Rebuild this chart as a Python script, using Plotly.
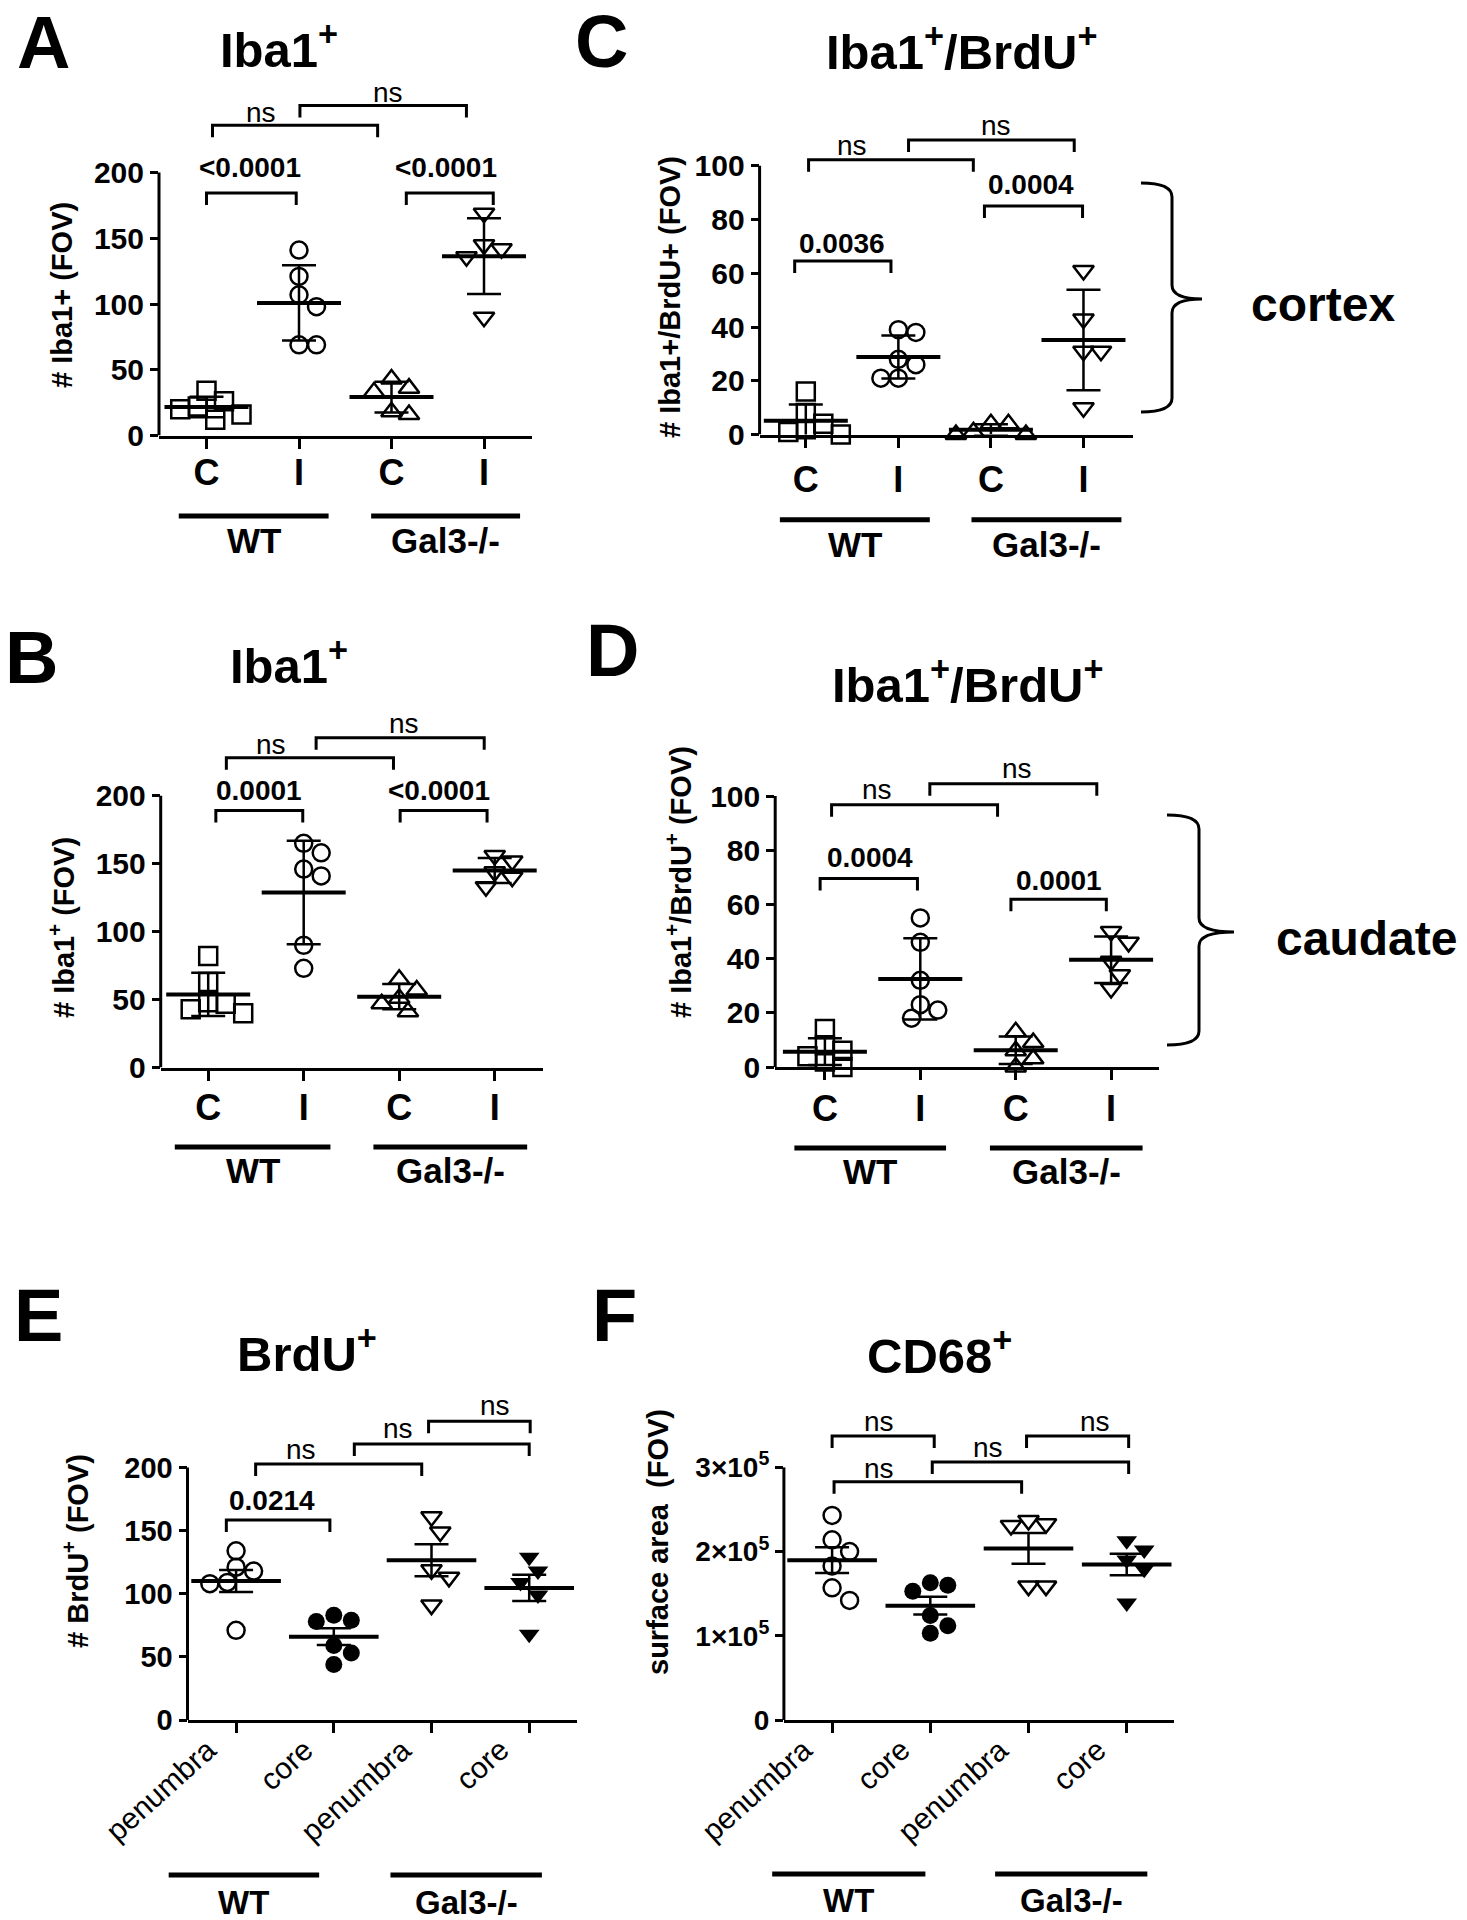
import numpy as np
import plotly.graph_objects as go

W, H = 1467, 1920
FONT = "Liberation Sans, Arial, Helvetica, sans-serif"

# ---------------- data ----------------
cat_ci = ["C", "I", "C", "I"]
cat_pc = ["penumbra", "core", "penumbra", "core"]
genotypes = ["WT", "Gal3-/-"]

a_wt_c = [34, 26, 22, 20, 16, 12]
a_wt_i = [141, 121, 107, 98, 69, 69]
a_ko_c = [43, 36, 33, 18, 16]
a_ko_i = [169, 145, 142, 136, 90]

b_wt_c = [82, 63, 48, 47, 43, 40]
b_wt_i = [165, 158, 146, 141, 90, 73]
b_ko_c = [65, 57, 51, 47, 41]
b_ko_i = [156, 152, 144, 140, 133]

c_wt_c = [16, 8, 4, 2, 1, 0]
c_wt_i = [39, 38, 28, 26, 21, 21]
c_ko_c = [4, 4, 1, 0, 0]
c_ko_i = [61, 43, 31, 31, 10]

d_wt_c = [14, 8, 6, 4, 2, 0]
d_wt_i = [55, 46, 32, 23, 21, 18]
d_ko_c = [13, 9, 6, 3, 0]
d_ko_i = [50, 46, 39, 34, 29]

e_wt_pen = [134, 121, 118, 109, 108, 71]
e_wt_core = [83, 79, 78, 59, 53, 44]
e_ko_pen = [161, 149, 119, 113, 91]
e_ko_core = [129, 118, 109, 99, 68]

f_wt_pen = [243000, 214000, 200000, 183000, 157000, 142000]
f_wt_core = [163000, 160000, 153000, 124000, 112000, 103000]
f_ko_pen = [237000, 233000, 231000, 159000, 159000]
f_ko_core = [213000, 202000, 190000, 179000, 139000]

# significance brackets: (from, to, height, label, label_x, label_y)
a_sig = [(0.0, 0.97, 184.5, "<0.0001", 0.47, 203.5),
         (2.16, 3.1, 184.5, "<0.0001", 2.59, 203.5),
         (0.065, 1.85, 236, "ns", 0.59, 245.6),
         (1.01, 2.81, 251, "ns", 1.96, 261)]
b_sig = [(0.08, 0.99, 189.1, "0.0001", 0.53, 204),
         (2.01, 2.92, 189.1, "<0.0001", 2.42, 204),
         (0.19, 1.94, 228, "ns", 0.66, 238),
         (1.13, 2.89, 242.7, "ns", 2.05, 253)]
c_sig = [(-0.12, 0.92, 64.6, "0.0036", 0.39, 70.9),
         (1.93, 2.99, 85, "0.0004", 2.43, 93.1),
         (0.03, 1.81, 102.2, "ns", 0.5, 107.5),
         (1.11, 2.9, 109.6, "ns", 2.06, 115)]
d_sig = [(-0.05, 0.97, 69.6, "0.0004", 0.47, 77.4),
         (1.95, 2.95, 61.9, "0.0001", 2.45, 68.9),
         (0.07, 1.81, 96.8, "ns", 0.55, 102.4),
         (1.1, 2.85, 104.5, "ns", 2.01, 110.2)]
e_sig = [(-0.1, 0.96, 158.4, "0.0214", 0.37, 174),
         (0.2, 1.9, 202.7, "ns", 0.66, 214.3),
         (1.21, 3.0, 218.6, "ns", 1.66, 231),
         (1.97, 3.01, 236.7, "ns", 2.65, 249.3)]
f_sig = [(0.0, 1.04, 337300, "ns", 0.48, 355000),
         (1.02, 3.02, 306400, "ns", 1.59, 324000),
         (0.02, 1.93, 283000, "ns", 0.48, 299000),
         (1.98, 3.02, 337300, "ns", 2.68, 355000)]

ci_ticks = [0, 50, 100, 150, 200]
pct_ticks = [0, 20, 40, 60, 80, 100]
f_ticks = [0, 100000, 200000, 300000]
f_ticktext = ["0", "1×10<sup>5</sup>", "2×10<sup>5</sup>", "3×10<sup>5</sup>"]

# ---------------- layout specification (pixel geometry) ----------------
sym_ci = ["square-open", "circle-open", "triangle-up-open", "triangle-down-open"]
sym_pc = ["circle-open", "circle", "triangle-down-open", "triangle-down"]

panels = [
    dict(letter="A", title="Iba1<sup>+</sup>", ytitle="# Iba1+ (FOV)",
         groups=[a_wt_c, a_wt_i, a_ko_c, a_ko_i], cats=cat_ci, sig=a_sig, stat="sd", sym=sym_ci,
         xpx=(159, 532), cat0=206.5, sp=92.5, y0=435.5, unit=1.315, top=80, xlab_off=-7,
         yticks=ci_ticks, yticktext=None, letter_xy=(43, 43), title_xy=(279, 46), ytitle_xy=(62, 295),
         gline_y=516, glines=[(-0.3, 1.32), (1.78, 3.39)], glabel_y=540, brace=None),
    dict(letter="B", title="Iba1<sup>+</sup>", ytitle="# Iba1<sup>+</sup> (FOV)",
         groups=[b_wt_c, b_wt_i, b_ko_c, b_ko_i], cats=cat_ci, sig=b_sig, stat="sd", sym=sym_ci,
         xpx=(160.7, 542.9), cat0=208.2, sp=95.5, y0=1067.6, unit=1.3595, top=700, xlab_off=-4,
         yticks=ci_ticks, yticktext=None, letter_xy=(31, 657), title_xy=(289, 662), ytitle_xy=(62, 928),
         gline_y=1147, glines=[(-0.35, 1.28), (1.73, 3.34)], glabel_y=1170, brace=None),
    dict(letter="C", title="Iba1<sup>+</sup>/BrdU<sup>+</sup>", ytitle="# Iba1+/BrdU+ (FOV)",
         groups=[c_wt_c, c_wt_i, c_ko_c, c_ko_i], cats=cat_ci, sig=c_sig, stat="sd", sym=sym_ci,
         xpx=(759.6, 1132.6), cat0=805.8, sp=92.56, y0=434.6, unit=2.689, top=100, xlab_off=1,
         yticks=pct_ticks, yticktext=None, letter_xy=(601, 42), title_xy=(962, 48), ytitle_xy=(670, 297),
         gline_y=519.7, glines=[(-0.28, 1.34), (1.79, 3.41)], glabel_y=544,
         brace=dict(x0=1141, x1=1172, x2=1202, ytop=183, ybot=412, ymid=299, label="cortex", lx=1323, ly=305)),
    dict(letter="D", title="Iba1<sup>+</sup>/BrdU<sup>+</sup>", ytitle="# Iba1<sup>+</sup>/BrdU<sup>+</sup> (FOV)",
         groups=[d_wt_c, d_wt_i, d_ko_c, d_ko_i], cats=cat_ci, sig=d_sig, stat="sd", sym=sym_ci,
         xpx=(775.2, 1158.7), cat0=824.9, sp=95.4, y0=1067, unit=2.71, top=740, xlab_off=-2,
         yticks=pct_ticks, yticktext=None, letter_xy=(612, 650), title_xy=(968, 681), ytitle_xy=(679, 882),
         gline_y=1148, glines=[(-0.32, 1.27), (1.73, 3.33)], glabel_y=1171,
         brace=dict(x0=1167, x1=1199, x2=1234, ytop=815, ybot=1045, ymid=932, label="caudate", lx=1366, ly=938)),
    dict(letter="E", title="BrdU<sup>+</sup>", ytitle="# BrdU<sup>+</sup> (FOV)",
         groups=[e_wt_pen, e_wt_core, e_ko_pen, e_ko_core], cats=cat_pc, sig=e_sig, stat="sem", sym=sym_pc,
         xpx=(187.5, 577), cat0=236.1, sp=97.7, y0=1720, unit=1.2625, top=1380, xlab_off=0,
         yticks=ci_ticks, yticktext=None, letter_xy=(38, 1315), title_xy=(307, 1350), ytitle_xy=(76, 1551),
         gline_y=1875, glines=[(-0.69, 0.85), (1.58, 3.13)], glabel_y=1902, brace=None),
    dict(letter="F", title="CD68<sup>+</sup>", ytitle="surface area&nbsp; (FOV)",
         groups=[f_wt_pen, f_wt_core, f_ko_pen, f_ko_core], cats=cat_pc, sig=f_sig, stat="sem", sym=sym_pc,
         xpx=(783.9, 1173.7), cat0=832.1, sp=98.2, y0=1720, unit=84.2e-5, top=1380, xlab_off=0,
         yticks=f_ticks, yticktext=f_ticktext, letter_xy=(614, 1315), title_xy=(939, 1352), ytitle_xy=(658, 1542),
         gline_y=1874, glines=[(-0.61, 0.95), (1.66, 3.21)], glabel_y=1900, brace=None),
]


def swarm(ypx, d):
    """simple beeswarm: horizontal pixel offsets so markers don't overlap"""
    order = np.argsort(-np.asarray(ypx))
    placed = []
    offs = np.zeros(len(ypx))
    cands = [0.0]
    for m in range(1, 30):
        cands += [m * d * 0.5, -m * d * 0.5]
    for i in order:
        y = ypx[i]
        for c in cands:
            if all((c - px) ** 2 + (y - py) ** 2 >= (0.92 * d) ** 2 for px, py in placed):
                offs[i] = c
                placed.append((c, y))
                break
    return offs


def px2paper(px, py):
    return px / W, 1 - py / H


fig = go.Figure()
shapes = []
annotations = []
layout_axes = {}

for n, P in enumerate(panels, start=1):
    sfx = "" if n == 1 else str(n)
    xa, ya = "x" + sfx, "y" + sfx
    xmin = (P["xpx"][0] - P["cat0"]) / P["sp"]
    xmax = (P["xpx"][1] - P["cat0"]) / P["sp"]
    ymax = (P["y0"] - P["top"]) / P["unit"]
    pc = P["cats"] is cat_pc

    # --- data points and mean +/- SD / SEM
    for i, vals in enumerate(P["groups"]):
        v = np.asarray(vals, dtype=float)
        offs = swarm(v * P["unit"], 17.5) / P["sp"]
        filled = not P["sym"][i].endswith("open")
        fig.add_trace(go.Scatter(
            x=i + offs, y=v, mode="markers", xaxis=xa, yaxis=ya, cliponaxis=False,
            marker=dict(symbol=P["sym"][i], size=17 if "circle" in P["sym"][i] else 18, color="black",
                        line=dict(color="black", width=2.5 if not filled else 0)),
            showlegend=False, hoverinfo="skip"))
        mean = v.mean()
        sd = v.std(ddof=1)
        err = sd if P["stat"] == "sd" else sd / np.sqrt(len(v))
        fig.add_trace(go.Scatter(
            x=[i], y=[mean], mode="markers", xaxis=xa, yaxis=ya, cliponaxis=False,
            marker=dict(symbol="line-ew", size=64 if pc else 60, color="black",
                        line=dict(color="black", width=4)),
            error_y=dict(type="data", array=[err], symmetric=True, color="black", thickness=2.5, width=17),
            showlegend=False, hoverinfo="skip"))

    # --- axes
    layout_axes["xaxis" + sfx] = dict(
        domain=[P["xpx"][0] / W, P["xpx"][1] / W], range=[xmin, xmax], anchor=ya, automargin=False,
        showline=True, linewidth=3, linecolor="black", ticks="outside", ticklen=10, tickwidth=3,
        tickcolor="black", tickvals=[0, 1, 2, 3], ticktext=P["cats"], showticklabels=not pc,
        tickangle=0, ticklabelstandoff=P["xlab_off"],
        tickfont=dict(family=FONT, size=36, color="black", weight="bold"),
        showgrid=False, zeroline=False, fixedrange=True)
    layout_axes["yaxis" + sfx] = dict(
        domain=[1 - P["y0"] / H, 1 - P["top"] / H], range=[0, ymax], anchor=xa, automargin=False,
        showline=False, ticks="outside", ticklen=8, tickwidth=3, tickcolor="black",
        tickvals=P["yticks"], ticktext=P["yticktext"] if P["yticktext"] else [str(t) for t in P["yticks"]],
        tickfont=dict(family=FONT, size=28 if P["yticktext"] else (29 if pc else 30), color="black", weight="bold"),
        showgrid=False, zeroline=False, fixedrange=True)
    # y axis line only up to the top tick
    shapes.append(dict(type="line", xref=xa + " domain", yref=ya, x0=0, x1=0, y0=0, y1=P["yticks"][-1],
                       line=dict(color="black", width=3), layer="above"))

    # rotated category labels (penumbra / core), anchored by their upper-right corner
    if pc:
        for i, lab in enumerate(P["cats"]):
            annotations.append(dict(xref=xa, yref=ya + " domain", x=i, y=0, text=lab, showarrow=False,
                                    textangle=-42, xanchor="right", yanchor="top", xshift=-12, yshift=-10,
                                    font=dict(family=FONT, size=30, color="black")))

    # --- significance brackets
    leg = 12 / P["unit"]
    for (b0, b1, h, lab, tx, ty) in P["sig"]:
        shapes.append(dict(type="path", xref=xa, yref=ya,
                           path=f"M {b0},{h - leg} L {b0},{h} L {b1},{h} L {b1},{h - leg}",
                           line=dict(color="black", width=3)))
        annotations.append(dict(xref=xa, yref=ya, x=tx, y=ty, text=lab, showarrow=False,
                                xanchor="center", yanchor="middle",
                                font=dict(family=FONT, size=28, color="black",
                                          weight="normal" if lab == "ns" else "bold")))

    # --- genotype group lines and labels
    def dom(x):
        return (x - xmin) / (xmax - xmin)
    gy = 1 - P["gline_y"] / H
    for (g0, g1), gname in zip(P["glines"], genotypes):
        shapes.append(dict(type="line", xref=xa + " domain", yref="paper", x0=dom(g0), x1=dom(g1),
                           y0=gy, y1=gy, line=dict(color="black", width=5)))
        annotations.append(dict(xref=xa + " domain", yref="paper", x=dom((g0 + g1) / 2),
                                y=1 - P["glabel_y"] / H, text=gname, showarrow=False,
                                xanchor="center", yanchor="middle",
                                font=dict(family=FONT, size=33 if pc else 35, color="black", weight="bold")))

    # --- panel letter, title, y title
    lx, ly = px2paper(*P["letter_xy"])
    annotations.append(dict(xref="paper", yref="paper", x=lx, y=ly, text=P["letter"], showarrow=False,
                            xanchor="center", yanchor="middle",
                            font=dict(family=FONT, size=74, color="black", weight="bold")))
    tx_, ty_ = px2paper(*P["title_xy"])
    annotations.append(dict(xref="paper", yref="paper", x=tx_, y=ty_, text=P["title"], showarrow=False,
                            xanchor="center", yanchor="middle",
                            font=dict(family=FONT, size=49, color="black", weight="bold")))
    yx, yy = px2paper(*P["ytitle_xy"])
    annotations.append(dict(xref="paper", yref="paper", x=yx, y=yy, text=P["ytitle"], showarrow=False,
                            textangle=-90, xanchor="center", yanchor="middle",
                            font=dict(family=FONT, size=29, color="black", weight="bold")))

    # --- curly brace with region label
    B = P["brace"]
    if B:
        r = 14
        pts = [
            ("M", B["x0"], B["ytop"]),
            ("Q", B["x1"], B["ytop"], B["x1"], B["ytop"] + r),
            ("L", B["x1"], B["ymid"] - r),
            ("Q", B["x1"], B["ymid"], B["x2"], B["ymid"]),
            ("Q", B["x1"], B["ymid"], B["x1"], B["ymid"] + r),
            ("L", B["x1"], B["ybot"] - r),
            ("Q", B["x1"], B["ybot"], B["x0"], B["ybot"]),
        ]
        path = ""
        for p in pts:
            coords = []
            for k in range(1, len(p), 2):
                X, Y = px2paper(p[k], p[k + 1])
                coords.append(f"{X:.5f},{Y:.5f}")
            path += p[0] + " " + " ".join(coords) + " "
        shapes.append(dict(type="path", xref="paper", yref="paper", path=path.strip(),
                           line=dict(color="black", width=3)))
        bx, by = px2paper(B["lx"], B["ly"])
        annotations.append(dict(xref="paper", yref="paper", x=bx, y=by, text=B["label"], showarrow=False,
                                xanchor="center", yanchor="middle",
                                font=dict(family=FONT, size=48, color="black", weight="bold")))

fig.update_layout(
    width=W, height=H, autosize=False,
    margin=dict(l=0, r=0, t=0, b=0, pad=0, autoexpand=False),
    paper_bgcolor="white", plot_bgcolor="white",
    showlegend=False, shapes=shapes, annotations=annotations,
    font=dict(family=FONT, color="black"),
    **layout_axes,
)

fig.write_html("out.html", include_plotlyjs=True, config={"displayModeBar": False},
               post_script="document.body.style.margin='0px';document.body.style.overflow='hidden';")
